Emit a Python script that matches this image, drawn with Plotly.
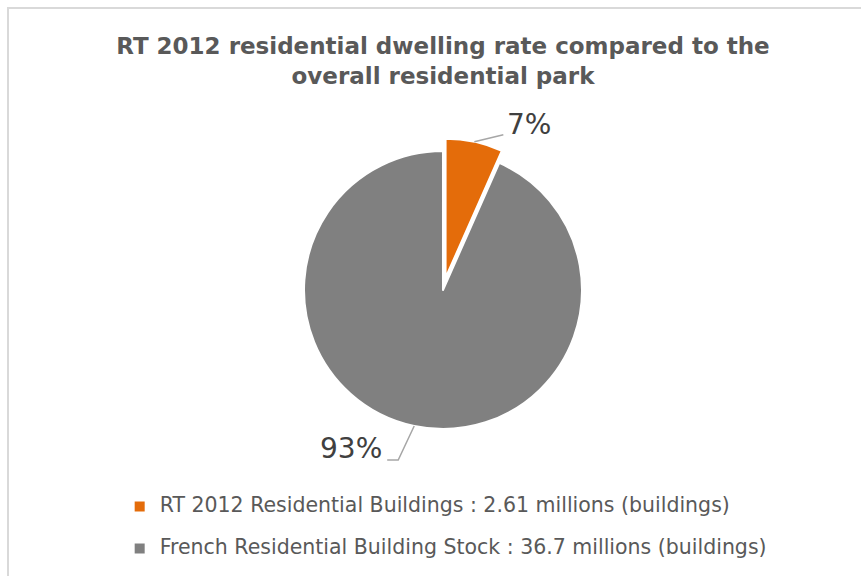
import math
import plotly.graph_objects as go

labels = ["RT 2012 Residential Buildings : 2.61 millions (buildings)",
          "French Residential Building Stock : 36.7 millions (buildings)"]
values = [2.61, 36.7]
colors = ["#E46C0A", "#808080"]
pulls = [0.09, 0]

W, H = 861, 576
dom_x = [0.3, 0.729]
dom_y = [0.2335, 0.7595]

# pie geometry in pixels (derived from the domain, as plotly computes it)
cx = W * (dom_x[0] + dom_x[1]) / 2
cy = H * (1 - (dom_y[0] + dom_y[1]) / 2)
r = H * (dom_y[1] - dom_y[0]) / 2 / (1 + max(pulls))

total = sum(values)
mids = []
acc = 0
for v in values:
    mids.append((acc + v / 2) / total * 2 * math.pi)
    acc += v

def px2paper(x, y):
    return x / W, 1 - y / H

# legend labels: larger text via span, extra blank line to reproduce the row spacing
span = "<span style='font-size:20.5px'>{}</span>"
legend_labels = [span.format(lab) + ("<br>&nbsp;" if i < len(labels) - 1 else "")
                 for i, lab in enumerate(labels)]

fig = go.Figure()
fig.add_trace(go.Pie(
    labels=legend_labels, values=values, sort=False, direction="clockwise", rotation=0,
    marker=dict(colors=colors, line=dict(color="white", width=2)),
    pull=pulls,
    textinfo="none",
    domain=dict(x=dom_x, y=dom_y),
    hovertext=labels, hoverinfo="text+percent",
))

# data labels with leader lines
pct = [round(v / total * 100) for v in values]
shapes = [dict(type="rect", xref="paper", yref="paper",
               x0=8 / W, x1=1.05, y0=-0.05, y1=1 - 8 / H,
               line=dict(color="#D9D9D9", width=2))]
annotations = []
label_font = dict(family="DejaVu Sans", size=28, color="#404040")
leader = dict(color="#A6A6A6", width=1.5)

# slice 0 (pulled)
a = mids[0]
rr = r * (1 + pulls[0])
p0 = (cx + rr * math.sin(a), cy - rr * math.cos(a))
p1 = (p0[0] + 29, p0[1] - 7)
x0, y0 = px2paper(*p0); x1, y1 = px2paper(*p1)
shapes.append(dict(type="path", xref="paper", yref="paper",
                   path=f"M {x0} {y0} L {x1} {y1}", line=leader))
lx, ly = px2paper(p1[0] + 2, p1[1] - 10)
annotations.append(dict(x=lx, y=ly, xref="paper", yref="paper", text=f"{pct[0]}%",
                        showarrow=False, xanchor="left", yanchor="middle", font=label_font))

# slice 1
a = mids[1]
rr = r * (1 + pulls[1])
p0 = (cx + rr * math.sin(a), cy - rr * math.cos(a))
p1 = (p0[0] - 16, p0[1] + 34)
p2 = (p1[0] - 11, p1[1])
x0, y0 = px2paper(*p0); x1, y1 = px2paper(*p1); x2, y2 = px2paper(*p2)
shapes.append(dict(type="path", xref="paper", yref="paper",
                   path=f"M {x0} {y0} L {x1} {y1} L {x2} {y2}", line=leader))
lx, ly = px2paper(p2[0] - 3, p2[1] - 11)
annotations.append(dict(x=lx, y=ly, xref="paper", yref="paper", text=f"{pct[1]}%",
                        showarrow=False, xanchor="right", yanchor="middle", font=label_font))

fig.update_layout(
    width=W, height=H,
    margin=dict(l=0, r=0, t=0, b=0, autoexpand=False),
    paper_bgcolor="white",
    title=dict(
        text="<b>RT 2012 residential dwelling rate compared to the<br>overall residential park</b>",
        x=0.5145, xanchor="center", y=0.906, yanchor="top",
        font=dict(family="DejaVu Sans", size=23, color="#595959"),
    ),
    legend=dict(
        x=0.139, y=0.149, xanchor="left", yanchor="top", valign="top",
        font=dict(family="DejaVu Sans", size=15, color="#595959"),
        bgcolor="rgba(0,0,0,0)",
    ),
    shapes=shapes,
    annotations=annotations,
)

fig.write_html("out.html")
